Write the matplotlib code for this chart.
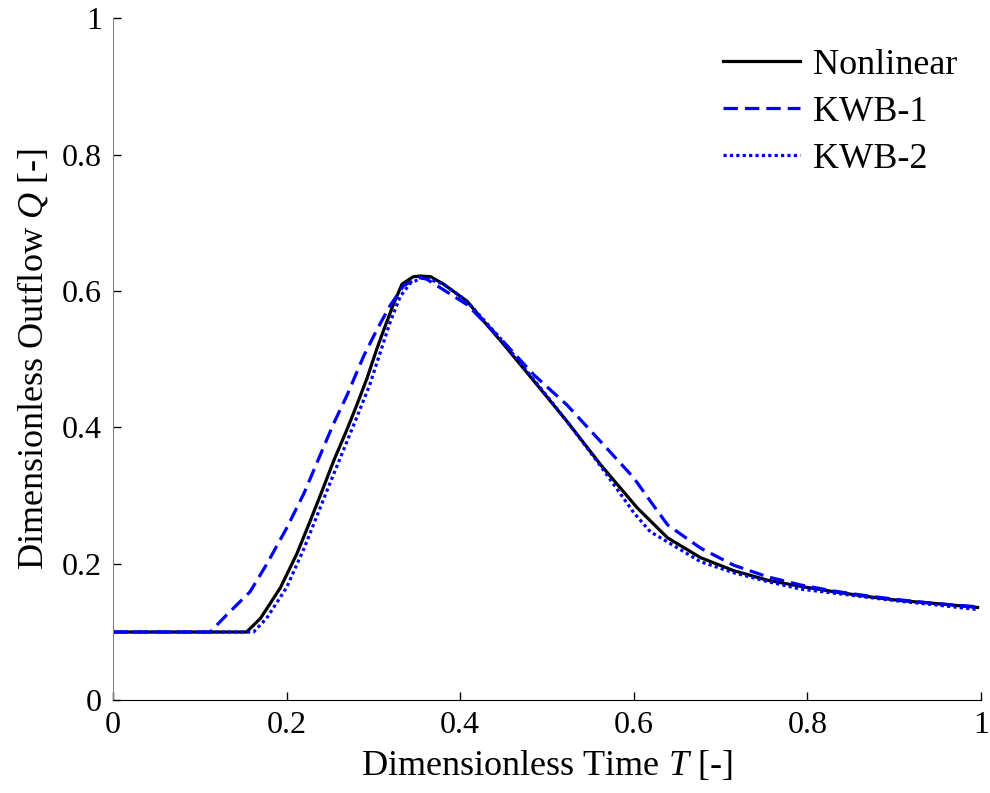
import matplotlib
matplotlib.use("Agg")
import matplotlib.pyplot as plt

# Nonlinear solution (T, Q)
t_nl = [0.0, 0.154, 0.170, 0.193, 0.212, 0.227, 0.241, 0.254, 0.270, 0.281, 0.293,
        0.304, 0.312, 0.323, 0.333, 0.346, 0.354, 0.366, 0.381, 0.408, 0.427, 0.450,
        0.485, 0.523, 0.562, 0.604, 0.639, 0.677, 0.715, 0.754, 0.792, 0.831,
        0.869, 0.908, 0.946, 0.996]
q_nl = [0.100, 0.100, 0.120, 0.165, 0.215, 0.262, 0.307, 0.350, 0.398, 0.433, 0.473,
        0.515, 0.543, 0.580, 0.610, 0.621, 0.622, 0.621, 0.610, 0.585, 0.556, 0.522,
        0.468, 0.409, 0.345, 0.282, 0.238, 0.209, 0.190, 0.176, 0.167, 0.159,
        0.152, 0.146, 0.142, 0.136]

# KWB-1
t_k1 = [0.0, 0.112, 0.131, 0.158, 0.177, 0.200, 0.220, 0.239, 0.254, 0.270, 0.289,
        0.304, 0.319, 0.335, 0.354, 0.362, 0.408, 0.446, 0.485, 0.523, 0.562,
        0.600, 0.619, 0.639, 0.677, 0.715, 0.754, 0.792, 0.831, 0.869, 0.908,
        0.946, 0.996]
q_k1 = [0.100, 0.100, 0.125, 0.159, 0.199, 0.252, 0.303, 0.360, 0.405, 0.448, 0.505,
        0.543, 0.578, 0.608, 0.620, 0.617, 0.580, 0.531, 0.477, 0.433, 0.379,
        0.326, 0.292, 0.257, 0.223, 0.198, 0.181, 0.169, 0.160, 0.153, 0.147,
        0.142, 0.137]

# KWB-2
t_k2 = [0.0, 0.162, 0.177, 0.200, 0.220, 0.235, 0.250, 0.266, 0.281, 0.296, 0.308,
        0.319, 0.331, 0.343, 0.358, 0.381, 0.408, 0.446, 0.485, 0.523, 0.562,
        0.600, 0.619, 0.639, 0.677, 0.715, 0.754, 0.792, 0.831, 0.869, 0.908,
        0.946, 0.996]
q_k2 = [0.100, 0.100, 0.120, 0.165, 0.222, 0.270, 0.318, 0.368, 0.415, 0.463, 0.510,
        0.553, 0.592, 0.612, 0.620, 0.610, 0.585, 0.531, 0.470, 0.409, 0.343,
        0.275, 0.247, 0.232, 0.203, 0.187, 0.174, 0.163, 0.157, 0.151, 0.145,
        0.140, 0.133]

ticks = [0, 0.2, 0.4, 0.6, 0.8, 1]
tick_labels = ["0", "0.2", "0.4", "0.6", "0.8", "1"]

plt.rcParams["font.family"] = ["Liberation Serif", "DejaVu Serif"]
plt.rcParams["mathtext.fontset"] = "custom"
plt.rcParams["mathtext.it"] = "Liberation Serif:italic"
plt.rcParams["mathtext.rm"] = "Liberation Serif"

fig = plt.figure(figsize=(9.9, 7.93), dpi=100)
ax = fig.add_axes([0.114, 0.117, 0.877, 0.860])

ax.plot(t_nl, q_nl, color="black", lw=2.3, ls="-", label="Nonlinear")
ax.plot(t_k1, q_k1, color="#0000ff", lw=2.3, ls=(0, (4.5, 2.2)), label="KWB-1")
ax.plot(t_k2, q_k2, color="#0000ff", lw=2.3, ls=(0, (1.0, 1.0)), label="KWB-2")

ax.set_xlim(0, 1)
ax.set_ylim(0, 1)
ax.set_xticks(ticks)
ax.set_xticklabels(tick_labels)
ax.set_yticks(ticks)
ax.set_yticklabels(tick_labels)
ax.tick_params(direction="in", length=6, width=1, labelsize=23, pad=8, colors="black")

ax.spines["top"].set_visible(False)
ax.spines["right"].set_visible(False)
ax.spines["left"].set_color("#808080")
ax.spines["bottom"].set_color("black")

ax.set_xlabel("Dimensionless Time $T$ [-]", fontsize=26, labelpad=6)
ax.set_ylabel("Dimensionless Outflow $Q$ [-]", fontsize=26, labelpad=8)

ax.legend(loc="upper right", bbox_to_anchor=(1.012, 1.006), frameon=False,
          fontsize=26, handlelength=2.15, handletextpad=0.35, labelspacing=0.38,
          borderaxespad=0.55)

fig.savefig("out.png", dpi=100)
